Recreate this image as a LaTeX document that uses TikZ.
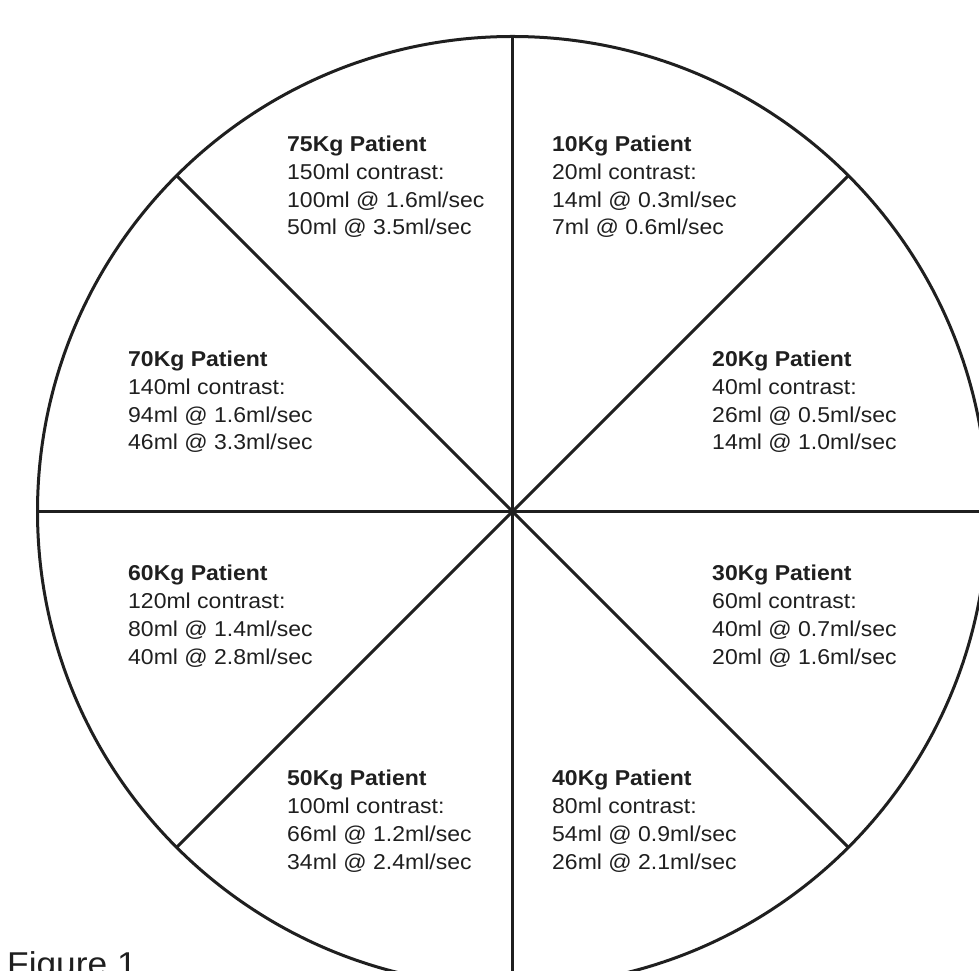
\documentclass[tikz,border=0pt]{standalone}
\usepackage{fontspec}
\setmainfont{Liberation Sans}[FakeStretch=1.07]
\begin{document}
\begin{tikzpicture}[x=1pt,y=1pt,
  wheel/.style={line width=3pt, draw=black!88},
  info/.style={anchor=base west, align=left, inner sep=0pt,
    font={\fontsize{21.5}{27.7}\selectfont}, text=black!88},
  caption/.style={anchor=base west, inner sep=0pt,
    font={\fontsize{33}{36}\selectfont}, text=black!88}]
\useasboundingbox (0,0) rectangle (979,970);
\clip (0,0) rectangle (979,970);
\coordinate (c) at (512.5,458.5);
\draw[wheel] (c) circle[radius=475];
\foreach \a in {0,45,...,315} \draw[wheel] (c) -- ++(\a:475);
\node[info] (p75) at (287,735) {\textbf{75Kg Patient}\\150ml contrast:\\100ml @ 1.6ml/sec\\50ml @ 3.5ml/sec};
\node[info] (p10) at (552,735) {\textbf{10Kg Patient}\\20ml contrast:\\14ml @ 0.3ml/sec\\7ml @ 0.6ml/sec};
\node[info] (p70) at (128,520) {\textbf{70Kg Patient}\\140ml contrast:\\94ml @ 1.6ml/sec\\46ml @ 3.3ml/sec};
\node[info] (p20) at (712,520) {\textbf{20Kg Patient}\\40ml contrast:\\26ml @ 0.5ml/sec\\14ml @ 1.0ml/sec};
\node[info] (p60) at (128,306) {\textbf{60Kg Patient}\\120ml contrast:\\80ml @ 1.4ml/sec\\40ml @ 2.8ml/sec};
\node[info] (p30) at (712,306) {\textbf{30Kg Patient}\\60ml contrast:\\40ml @ 0.7ml/sec\\20ml @ 1.6ml/sec};
\node[info] (p50) at (287,101) {\textbf{50Kg Patient}\\100ml contrast:\\66ml @ 1.2ml/sec\\34ml @ 2.4ml/sec};
\node[info] (p40) at (552,101) {\textbf{40Kg Patient}\\80ml contrast:\\54ml @ 0.9ml/sec\\26ml @ 2.1ml/sec};
\node[caption] (fig) at (7,-5) {Figure 1};
\end{tikzpicture}
\end{document}
